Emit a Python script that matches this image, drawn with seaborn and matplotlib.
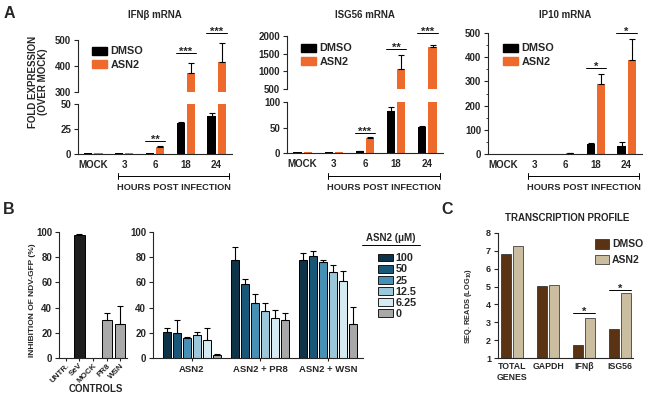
import pandas as pd
import seaborn as sns
import matplotlib.pyplot as plt
import matplotlib.transforms as mtransforms
from matplotlib.patches import Patch
from matplotlib.lines import Line2D
from matplotlib.ticker import MultipleLocator

sns.set_style('ticks')
plt.rcParams['font.family'] = ['Liberation Sans', 'DejaVu Sans']
plt.rcParams['font.weight'] = 'bold'
plt.rcParams['axes.labelweight'] = 'bold'
plt.rcParams['axes.linewidth'] = 0.8
plt.rcParams['mathtext.fontset'] = 'custom'
plt.rcParams['mathtext.bf'] = 'Liberation Sans:bold'
plt.rcParams['mathtext.rm'] = 'Liberation Sans:bold'
plt.rcParams['mathtext.default'] = 'bf'

############################# data #####################################

times = ['MOCK', '3', '6', '18', '24']
treatments = ['DMSO', 'ASN2']
pair_colors = ['#000000', '#ee6a2c']

ifnb_dmso = [1, 1, 1, 31, 38]
ifnb_dmso_err = [0, 0, 0, 1.5, 3.5]
ifnb_asn2 = [0.8, 0.8, 7, 375, 415]
ifnb_asn2_err = [0, 0, 1.5, 35, 72]

isg56_dmso = [1, 1, 3, 82, 51]
isg56_dmso_err = [0, 0, 0.5, 8, 2]
isg56_asn2 = [1, 1, 29, 1060, 1690]
isg56_asn2_err = [0, 0, 1.5, 400, 60]

ip10_dmso = [1, 1, 1.5, 41, 35]
ip10_dmso_err = [0, 0, 0, 3, 13]
ip10_asn2 = [1, 1, 4, 290, 390]
ip10_asn2_err = [0, 0, 1, 40, 85]

ctrl_labels = ['UNTR.', 'SeV', 'MOCK', 'PR8', 'WSN']
ctrl_vals = [0, 98, 0, 30, 27]
ctrl_err = [0, 0.5, 0, 6, 14]
ctrl_colors = ['#a9a9a9', '#1e1e1e', '#a9a9a9', '#a9a9a9', '#a9a9a9']

groups = ['ASN2', 'ASN2 + PR8', 'ASN2 + WSN']
doses = ['100', '50', '25', '12.5', '6.25', '0']
dose_colors = ['#0e3247', '#185778', '#4690b5', '#9cc6da', '#d6eaf2', '#a8a8a8']
asn2_only = [20.5, 20, 16, 18.4, 14.5, 2]
asn2_only_err = [3.5, 10, 1, 2, 9.5, 1]
asn2_pr8 = [77.6, 59, 44, 37.4, 32, 30]
asn2_pr8_err = [10.5, 3.4, 6.6, 6.3, 6, 6]
asn2_wsn = [77.6, 81, 76, 68, 61, 26.6]
asn2_wsn_err = [6, 4, 2, 6, 8, 13.6]

genes = ['TOTAL\nGENES', 'GAPDH', 'IFNβ', 'ISG56']
reads_dmso = [6.85, 5.05, 1.75, 2.65]
reads_asn2 = [7.25, 5.1, 3.25, 4.62]
reads_colors = ['#5a3214', '#cbbd9f']

####################################################################

W, H = 645, 404
fig = plt.figure(figsize=(W / 100, H / 100), dpi=100)


def fx(x):
    return x / W


def fy(y):
    return 1 - y / H


def px_ax(x0, y0, x1, y1):
    return fig.add_axes([fx(x0), fy(y1), (x1 - x0) / W, (y1 - y0) / H])


def add_err(ax, errs):
    for cont, e in zip(ax.containers, errs):
        for bar, ev in zip(cont, e):
            if ev <= 0:
                continue
            xc = bar.get_x() + bar.get_width() / 2
            ax.errorbar(xc, bar.get_height(), yerr=[[0], [ev]], fmt='none', ecolor='black',
                        elinewidth=0.8, capsize=2, capthick=0.8)


def sig_mark(ax, i, y, txt, half=0.33):
    ax.plot([i - half, i + half], [y, y], color='black', lw=0.7, clip_on=False)
    ax.annotate(txt, (i, y), xytext=(0, -1.2), textcoords='offset points', ha='center',
                va='baseline', fontsize=8, annotation_clip=False)


def draw_pair(ax, dmso, asn2, dmso_err, asn2_err):
    df = pd.DataFrame({'time': times * 2, 'value': dmso + asn2,
                       'treatment': ['DMSO'] * 5 + ['ASN2'] * 5})
    sns.barplot(data=df, x='time', y='value', hue='treatment', order=times, hue_order=treatments,
                palette=pair_colors, width=0.66, gap=0.2, errorbar=None, saturation=1,
                linewidth=0, legend=False, ax=ax)
    add_err(ax, [dmso_err, asn2_err])
    ax.set_xlim(-0.5, 4.5)
    ax.set(xlabel='', ylabel='')
    ax.tick_params(axis='y', length=3, width=0.8, labelsize=7, pad=2)
    sns.despine(ax=ax)


def expr_panel(x0, x1, title, dmso, dmso_err, asn2, asn2_err, sig, lower, upper, leg_xy):
    # lower / upper: (y top px, y bottom px, ymin, ymax, ticks)
    lo = px_ax(x0, lower[0], x1, lower[1])
    draw_pair(lo, dmso, asn2, dmso_err, asn2_err)
    lo.set_ylim(lower[2], lower[3])
    lo.set_yticks(lower[4])
    lo.tick_params(axis='x', length=0, labelsize=7, pad=4)
    leg_ax = lo
    up = None
    if upper is not None:
        up = px_ax(x0, upper[0], x1, upper[1])
        draw_pair(up, dmso, asn2, dmso_err, asn2_err)
        up.set_ylim(upper[2], upper[3])
        up.set_yticks(upper[4])
        up.spines['bottom'].set_visible(False)
        up.tick_params(axis='x', bottom=False, labelbottom=False)
        leg_ax = up
    for i, y, txt in sig:
        ax = lo if (up is None or y <= lower[3]) else up
        sig_mark(ax, i, y, txt)
    handles = [Patch(facecolor=c, edgecolor=c) for c in pair_colors]
    leg_ax.legend(handles, treatments, loc='upper left', bbox_to_anchor=(fx(leg_xy[0]), fy(leg_xy[1])),
                  bbox_transform=fig.transFigure, frameon=False, borderpad=0, handlelength=1.35,
                  handleheight=0.8, handletextpad=0.3, labelspacing=0.3, fontsize=7.8)
    # hours post infection bracket
    tr = mtransforms.blended_transform_factory(lo.transData, fig.transFigure)
    lo.plot([0.8, 4.4], [fy(176), fy(176)], color='black', lw=0.7, transform=tr, clip_on=False)
    for xb in (0.8, 4.4):
        lo.plot([xb, xb], [fy(173), fy(179)], color='black', lw=0.7, transform=tr, clip_on=False)
    lo.text(2.6, fy(187), 'HOURS POST INFECTION', transform=tr, ha='center', va='center', fontsize=6.7)
    fig.text(fx((x0 + x1) / 2), fy(15), title, ha='center', va='center', fontsize=7)
    return lo, up


######################## Panel A ########################

expr_panel(78, 232, 'IFNβ mRNA', ifnb_dmso, ifnb_dmso_err, ifnb_asn2, ifnb_asn2_err,
           [(2, 13, '**'), (3, 450, '***'), (4, 527, '***')],
           (104, 154, 0, 50, [0, 25, 50]), (40, 92, 300, 500, [300, 400, 500]), (87, 41))

expr_panel(287, 443, 'ISG56 mRNA', isg56_dmso, isg56_dmso_err, isg56_asn2, isg56_asn2_err,
           [(2, 39, '***'), (3, 1630, '**'), (4, 2085, '***')],
           (102, 153, 0, 100, [0, 50, 100]), (36, 89, 500, 2000, [500, 1000, 1500, 2000]), (296, 38))

lo_ip, _ = expr_panel(488, 642, 'IP10 mRNA', ip10_dmso, ip10_dmso_err, ip10_asn2, ip10_asn2_err,
                      [(3, 355, '*'), (4, 500, '*')],
                      (33, 154, 0, 500, [0, 100, 200, 300, 400, 500]), None, (498, 38))
lo_ip.yaxis.set_minor_locator(MultipleLocator(50))
lo_ip.tick_params(axis='y', which='minor', length=1.8, width=0.6)

fig.text(fx(38), fy(82), 'FOLD EXPRESSION\n(OVER MOCK)', rotation=90, ha='center', va='center',
         fontsize=7, multialignment='center', linespacing=1.1)

######################## Panel B ########################

axb1 = px_ax(59, 232, 127, 358)
sns.barplot(x=ctrl_labels, y=ctrl_vals, hue=ctrl_labels, palette=ctrl_colors, legend=False,
            width=0.75, errorbar=None, saturation=1, edgecolor='black', linewidth=0.7, ax=axb1)
add_err(axb1, [[e] for e in ctrl_err])
axb1.set_xlim(-0.5, 4.5)
axb1.set_ylim(0, 100)
axb1.set_yticks([0, 20, 40, 60, 80, 100])
axb1.tick_params(axis='y', length=3, width=0.8, labelsize=7, pad=2)
axb1.tick_params(axis='x', length=2, width=0.8, labelsize=5.8, pad=1)
plt.setp(axb1.get_xticklabels(), rotation=45, ha='right', rotation_mode='anchor')
axb1.set(xlabel='', ylabel='')
sns.despine(ax=axb1)
fig.text(fx(96), fy(389), 'CONTROLS', ha='center', va='center', fontsize=7)
fig.text(fx(32), fy(300), 'INHIBITION OF NDV-GFP (%)', rotation=90, ha='center', va='center', fontsize=6)

inhib = pd.DataFrame({
    'group': [g for g in groups for _ in doses],
    'dose': doses * 3,
    'value': asn2_only + asn2_pr8 + asn2_wsn,
})
inhib_err = [[asn2_only_err[k], asn2_pr8_err[k], asn2_wsn_err[k]] for k in range(len(doses))]

axb2 = px_ax(153, 232, 363, 358)
sns.barplot(data=inhib, x='group', y='value', hue='dose', order=groups, hue_order=doses,
            palette=dose_colors, width=0.88, gap=0.2, errorbar=None, saturation=1,
            edgecolor='black', linewidth=0.7, legend=False, ax=axb2)
add_err(axb2, inhib_err)
axb2.set_xlim(-0.57, 2.51)
axb2.set_ylim(0, 100)
axb2.set_yticks([0, 20, 40, 60, 80, 100])
axb2.tick_params(axis='y', length=3, width=0.8, labelsize=7, pad=2)
axb2.tick_params(axis='x', length=2, width=0.8, labelsize=6.8, pad=3)
axb2.set(xlabel='', ylabel='')
sns.despine(ax=axb2)

dose_handles = [Patch(facecolor=c, edgecolor='black', linewidth=0.6) for c in dose_colors]
axb2.legend(dose_handles, doses, loc='upper left', bbox_to_anchor=(fx(373), fy(248)),
            bbox_transform=fig.transFigure, frameon=False, borderpad=0, handlelength=1.3,
            handleheight=0.7, handletextpad=0.3, labelspacing=0.1, fontsize=7.8)
fig.text(fx(391), fy(238), 'ASN2 (μM)', ha='center', va='center', fontsize=7)
fig.add_artist(Line2D([fx(362), fx(420)], [fy(245), fy(245)], color='black', lw=0.7))

######################## Panel C ########################

reads = pd.DataFrame({'gene': genes * 2, 'value': reads_dmso + reads_asn2,
                      'treatment': ['DMSO'] * 4 + ['ASN2'] * 4})
axc = px_ax(498, 233, 633, 358)
sns.barplot(data=reads, x='gene', y='value', hue='treatment', order=genes, hue_order=treatments,
            palette=reads_colors, width=0.62, gap=0.1, errorbar=None, saturation=1,
            edgecolor='#222222', linewidth=0.5, legend=False, ax=axc)
axc.set_xlim(-0.39, 3.36)
axc.set_ylim(1, 8)
axc.set_yticks(range(1, 9))
axc.tick_params(axis='y', length=3, width=0.8, labelsize=6.5, pad=2)
axc.tick_params(axis='x', length=0, labelsize=6.3, pad=3)
axc.set(xlabel='', ylabel='')
sns.despine(ax=axc)
sig_mark(axc, 2, 3.52, '*', half=0.3)
sig_mark(axc, 3, 4.8, '*', half=0.3)
c_handles = [Patch(facecolor=c, edgecolor='#222222', linewidth=0.5) for c in reads_colors]
axc.legend(c_handles, treatments, loc='upper left', bbox_to_anchor=(fx(590), fy(234)),
           bbox_transform=fig.transFigure, frameon=False, borderpad=0, handlelength=1.3,
           handleheight=1.0, handletextpad=0.3, labelspacing=0.55, fontsize=7.5)
fig.text(fx(567), fy(218), 'TRANSCRIPTION PROFILE', ha='center', va='center', fontsize=7)
fig.text(fx(468), fy(306), 'SEQ. READS (LOG$_{10}$)', rotation=90, ha='center', va='center', fontsize=5.3)

# panel letters
fig.text(fx(9), fy(13), 'A', ha='center', va='center', fontsize=11.5)
fig.text(fx(9), fy(210), 'B', ha='center', va='center', fontsize=11.5)
fig.text(fx(447), fy(210), 'C', ha='center', va='center', fontsize=11.5)

fig.savefig('out.png', dpi=100)
